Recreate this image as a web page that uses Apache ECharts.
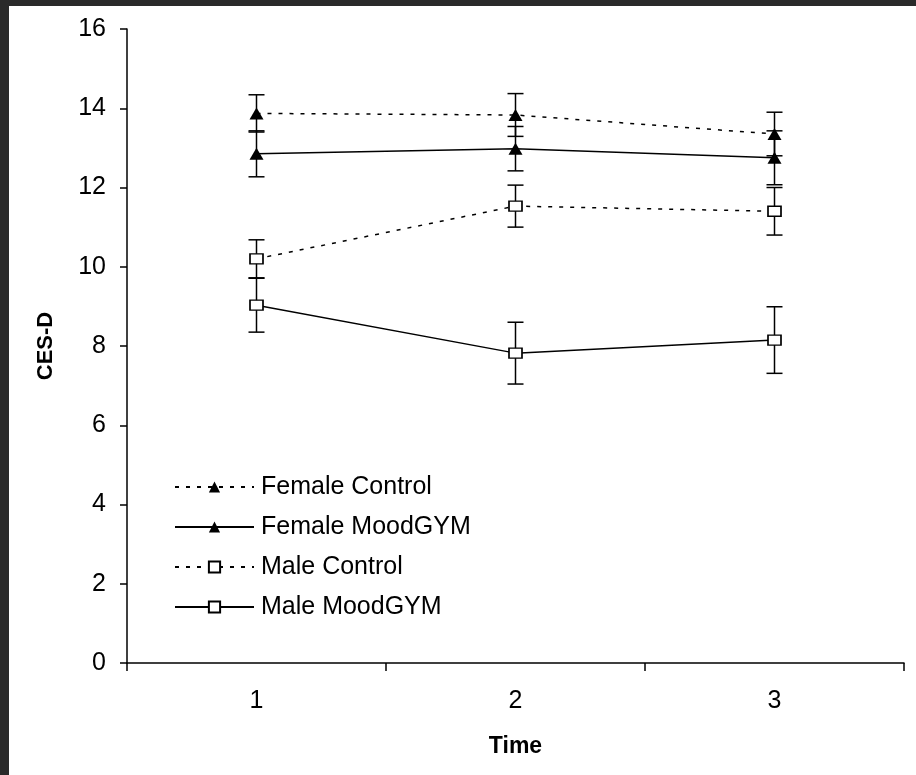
<!DOCTYPE html>
<html>
<head>
<meta charset="utf-8">
<script src="https://cdn.jsdelivr.net/npm/echarts@6/dist/echarts.min.js"></script>
<style>
  html, body { margin: 0; padding: 0; background: #2a2a2a; width: 916px; height: 775px; overflow: hidden; }
  #main { position: absolute; left: 9px; top: 6px; width: 907px; height: 769px; background: #fff; }
</style>
</head>
<body>
<div id="main"></div>
<script>
var times = ['1', '2', '3'];

var femaleControl = [13.87, 13.83, 13.35];
var femaleControlErr = [0.47, 0.54, 0.55];
var femaleMood = [12.85, 12.98, 12.75];
var femaleMoodErr = [0.58, 0.56, 0.68];
var maleControl = [10.2, 11.53, 11.4];
var maleControlErr = [0.48, 0.53, 0.6];
var maleMood = [9.03, 7.82, 8.15];
var maleMoodErr = [0.68, 0.78, 0.84];

var font = "'Liberation Sans', Arial, sans-serif";

function bars(mean, err) {
  return mean.map(function (m, i) { return [i, m - err[i], m + err[i]]; });
}

// vertical error bar with caps
function renderBar(params, api) {
  var x = api.value(0);
  var lo = api.coord([x, api.value(1)]);
  var hi = api.coord([x, api.value(2)]);
  var w = 8;
  var st = { stroke: '#000', lineWidth: 1.5 };
  return {
    type: 'group',
    children: [
      { type: 'line', shape: { x1: hi[0], y1: hi[1], x2: lo[0], y2: lo[1] }, style: st },
      { type: 'line', shape: { x1: hi[0] - w, y1: hi[1], x2: hi[0] + w, y2: hi[1] }, style: st },
      { type: 'line', shape: { x1: lo[0] - w, y1: lo[1], x2: lo[0] + w, y2: lo[1] }, style: st }
    ]
  };
}

function errSeries(name, mean, err) {
  return {
    name: name,
    type: 'custom',
    renderItem: renderBar,
    encode: { x: 0, y: [1, 2] },
    data: bars(mean, err),
    z: 1,
    silent: true
  };
}

var dotted = [4, 7];

var myChart = echarts.init(document.getElementById('main'));
var option = {
  animation: false,
  backgroundColor: '#fff',
  textStyle: { fontFamily: font, color: '#000' },
  grid: { left: 118, right: 12, top: 23, bottom: 112 },
  legend: {
    orient: 'vertical',
    left: 160,
    top: 463,
    itemWidth: 79,
    itemHeight: 14,
    itemGap: 14,
    data: ['Female Control', 'Female MoodGYM', 'Male Control', 'Male MoodGYM'],
    textStyle: { fontFamily: font, fontSize: 25, color: '#000', lineHeight: 26, padding: [0, 0, 0, 2] }
  },
  xAxis: {
    type: 'category',
    data: times,
    boundaryGap: true,
    name: 'Time',
    nameLocation: 'middle',
    nameGap: 72,
    nameTextStyle: { fontFamily: font, fontSize: 23, fontWeight: 'bold', color: '#000' },
    axisLine: { lineStyle: { color: '#000', width: 1.5 } },
    axisTick: { show: true, length: 8, lineStyle: { color: '#000', width: 1.5 } },
    axisLabel: { fontFamily: font, fontSize: 25, color: '#000', margin: 26 },
    splitLine: { show: false }
  },
  yAxis: {
    type: 'value',
    min: 0,
    max: 16,
    interval: 2,
    name: 'CES-D',
    nameLocation: 'middle',
    nameRotate: 90,
    nameGap: 70,
    nameTextStyle: { fontFamily: font, fontSize: 22, fontWeight: 'bold', color: '#000' },
    axisLine: { show: true, lineStyle: { color: '#000', width: 1.5 } },
    axisTick: { show: true, length: 7, lineStyle: { color: '#000', width: 1.5 } },
    axisLabel: { fontFamily: font, fontSize: 25, color: '#000', margin: 21 },
    splitLine: { show: false }
  },
  series: [
    errSeries('err-fc', femaleControl, femaleControlErr),
    errSeries('err-fm', femaleMood, femaleMoodErr),
    errSeries('err-mc', maleControl, maleControlErr),
    errSeries('err-mm', maleMood, maleMoodErr),
    {
      name: 'Female Control',
      type: 'line',
      data: femaleControl,
      z: 3,
      symbol: 'triangle',
      symbolSize: [14, 12],
      itemStyle: { color: '#000' },
      lineStyle: { color: '#000', width: 1.5, type: dotted }
    },
    {
      name: 'Female MoodGYM',
      type: 'line',
      data: femaleMood,
      z: 3,
      symbol: 'triangle',
      symbolSize: [14, 12],
      itemStyle: { color: '#000' },
      lineStyle: { color: '#000', width: 1.5 }
    },
    {
      name: 'Male Control',
      type: 'line',
      data: maleControl,
      z: 3,
      symbol: 'rect',
      symbolSize: [13, 10],
      itemStyle: { color: '#fff', borderColor: '#000', borderWidth: 1.5 },
      lineStyle: { color: '#000', width: 1.5, type: dotted }
    },
    {
      name: 'Male MoodGYM',
      type: 'line',
      data: maleMood,
      z: 3,
      symbol: 'rect',
      symbolSize: [13, 10],
      itemStyle: { color: '#fff', borderColor: '#000', borderWidth: 1.5 },
      lineStyle: { color: '#000', width: 1.5 }
    }
  ]
};
myChart.setOption(option);
</script>
</body>
</html>
